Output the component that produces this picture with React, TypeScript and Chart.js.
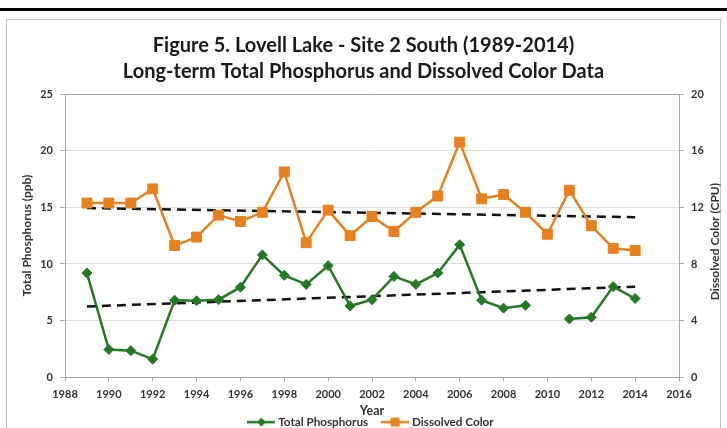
import React, { useEffect, useRef } from 'react';
import { Chart, registerables } from 'chart.js';

Chart.register(...registerables);

const titleLines = [
  'Figure 5. Lovell Lake - Site 2 South (1989-2014)',
  'Long-term Total Phosphorus and Dissolved Color Data',
];
const years = [1989, 1990, 1991, 1992, 1993, 1994, 1995, 1996, 1997, 1998, 1999, 2000, 2001, 2002, 2003, 2004, 2005, 2006, 2007, 2008, 2009, 2010, 2011, 2012, 2013, 2014];
const totalPhosphorus = [9.2, 2.45, 2.35, 1.6, 6.8, 6.75, 6.85, 7.95, 10.8, 9.0, 8.2, 9.85, 6.3, 6.85, 8.9, 8.2, 9.2, 11.7, 6.8, 6.1, 6.35, null, 5.15, 5.3, 8.0, 6.95];
const dissolvedColor = [12.3, 12.3, 12.3, 13.3, 9.3, 9.9, 11.45, 11.0, 11.65, 14.5, 9.5, 11.8, 10.0, 11.35, 10.3, 11.65, 12.8, 16.6, 12.6, 12.9, 11.65, 10.1, 13.2, 10.7, 9.1, 8.95];
const trendYears = [1989, 2014];
const tpTrend = [6.25, 8.0];
const colorTrend = [11.95, 11.3];
const seriesNames = ['Total Phosphorus', 'Dissolved Color'];
const leftAxisTitle = 'Total Phosphorus (ppb)';
const rightAxisTitle = 'Dissolved Color (CPU)';
const xAxisTitle = 'Year';

const GREEN = '#237a23';
const ORANGE = '#e8801e';
const FONT = 'Lato';
const TICK_COLOR = '#333333';
const AXIS_COLOR = '#a6a6a6';

function legendImage(color: string, shape: 'diamond' | 'square') {
  const c = document.createElement('canvas');
  c.width = 28;
  c.height = 12;
  const g = c.getContext('2d')!;
  g.strokeStyle = color;
  g.lineWidth = 2.5;
  g.beginPath();
  g.moveTo(0, 6);
  g.lineTo(28, 6);
  g.stroke();
  g.fillStyle = color;
  if (shape === 'diamond') {
    g.beginPath();
    g.moveTo(14, 1.5);
    g.lineTo(18.5, 6);
    g.lineTo(14, 10.5);
    g.lineTo(9.5, 6);
    g.closePath();
    g.fill();
  } else {
    g.fillRect(9.5, 1.5, 9, 9);
  }
  return c;
}

const framePlugin = {
  id: 'frame',
  beforeDraw(chart: any) {
    const { ctx, width, height } = chart;
    ctx.save();
    ctx.fillStyle = '#ffffff';
    ctx.fillRect(0, 0, width, height);
    ctx.fillStyle = '#000000';
    ctx.fillRect(0, 8, width, 3);
    ctx.strokeStyle = '#c4c4c4';
    ctx.lineWidth = 1;
    ctx.strokeRect(6.5, 19.5, 714, height);
    ctx.restore();
  },
  afterDraw(chart: any) {
    const { ctx, chartArea } = chart;
    ctx.save();
    ctx.translate(715, (chartArea.top + chartArea.bottom) / 2 + 6);
    ctx.rotate(-Math.PI / 2);
    ctx.font = `bold 12px ${FONT}`;
    ctx.fillStyle = '#333333';
    ctx.textAlign = 'center';
    ctx.textBaseline = 'middle';
    ctx.fillText(rightAxisTitle, 0, 0);
    ctx.restore();
  },
};

export default function App() {
  const ref = useRef<HTMLCanvasElement>(null);

  useEffect(() => {
    if (!ref.current) return;
    const images = [legendImage(GREEN, 'diamond'), legendImage(ORANGE, 'square')];
    const tickFont = { family: FONT, weight: 'bold' as const, size: 11 };
    const chart = new Chart(ref.current, {
      type: 'line',
      data: {
        datasets: [
          {
            label: seriesNames[0],
            data: years.map((x, i) => ({ x, y: totalPhosphorus[i] as any })),
            yAxisID: 'y',
            borderColor: GREEN,
            backgroundColor: GREEN,
            borderWidth: 2.5,
            pointStyle: 'rectRot',
            pointRadius: 5,
            pointBorderWidth: 1,
            pointBackgroundColor: GREEN,
            pointBorderColor: GREEN,
            spanGaps: false,
            tension: 0,
            order: 1,
          },
          {
            label: seriesNames[1],
            data: years.map((x, i) => ({ x, y: dissolvedColor[i] })),
            yAxisID: 'y2',
            borderColor: ORANGE,
            backgroundColor: ORANGE,
            borderWidth: 2.5,
            pointStyle: 'rect',
            pointRadius: 7,
            pointBorderWidth: 1,
            pointBackgroundColor: ORANGE,
            pointBorderColor: ORANGE,
            tension: 0,
            order: 2,
          },
          {
            label: 'TP trend',
            data: trendYears.map((x, i) => ({ x, y: tpTrend[i] })),
            yAxisID: 'y',
            borderColor: '#111111',
            borderWidth: 2.5,
            borderDash: [9, 6],
            pointRadius: 0,
            order: 3,
          },
          {
            label: 'Color trend',
            data: trendYears.map((x, i) => ({ x, y: colorTrend[i] })),
            yAxisID: 'y2',
            borderColor: '#111111',
            borderWidth: 2.5,
            borderDash: [9, 6],
            pointRadius: 0,
            order: 4,
          },
        ],
      },
      options: {
        animation: false,
        responsive: false,
        layout: { padding: 0 },
        scales: {
          x: {
            type: 'linear',
            min: 1988,
            max: 2016,
            ticks: { stepSize: 2, font: tickFont, color: TICK_COLOR, padding: 7, callback: (v: any) => String(v) },
            grid: { drawOnChartArea: false, drawTicks: true, tickLength: 4, color: AXIS_COLOR },
            border: { color: AXIS_COLOR, width: 1 },
            title: {
              display: true,
              text: xAxisTitle,
              font: { family: FONT, weight: 'bold', size: 12.5 },
              color: '#333333',
              padding: { top: 0, bottom: -18 },
            },
            afterFit: (s: any) => { s.height = 23; },
          },
          y: {
            position: 'left',
            min: 0,
            max: 25,
            ticks: { stepSize: 5, font: tickFont, color: TICK_COLOR, padding: 7 },
            grid: {
              color: (c: any) => (c.tick && c.tick.value === 25 ? AXIS_COLOR : '#dedede'),
              tickColor: AXIS_COLOR,
              tickLength: 5,
              drawTicks: true,
            },
            border: { color: AXIS_COLOR, width: 1 },
            title: {
              display: true,
              text: leftAxisTitle,
              font: { family: FONT, weight: 'bold', size: 12 },
              color: '#333333',
              padding: { top: 20, bottom: 0 },
            },
            afterFit: (s: any) => { s.width = 65; },
          },
          y2: {
            position: 'right',
            min: 0,
            max: 20,
            ticks: { stepSize: 4, font: tickFont, color: TICK_COLOR, padding: 7 },
            grid: { drawOnChartArea: false, drawTicks: true, tickLength: 5, color: AXIS_COLOR },
            border: { color: AXIS_COLOR, width: 1 },
            afterFit: (s: any) => { s.width = 48; },
          },
        },
        plugins: {
          title: {
            display: true,
            text: titleLines,
            font: { family: FONT, weight: 'bold', size: 20, lineHeight: 1.33 },
            color: '#1a1a1a',
            padding: { top: 32, bottom: 8.8 },
            fullSize: true,
          },
          legend: {
            display: true,
            position: 'bottom',
            fullSize: false,
            labels: {
              usePointStyle: true,
              pointStyleWidth: 22,
              padding: 16,
              font: { family: FONT, weight: 'bold', size: 11.7 },
              color: '#333333',
              filter: (item: any) => item.datasetIndex < 2,
              generateLabels: (ch: any) =>
                (Chart.defaults.plugins.legend.labels.generateLabels as any)(ch).map((it: any) => ({
                  ...it,
                  pointStyle: images[it.datasetIndex] ?? it.pointStyle,
                })),
            },
          },
          tooltip: { enabled: false },
        },
      },
      plugins: [framePlugin],
    });
    return () => chart.destroy();
  }, []);

  return (
    <div style={{ position: 'fixed', left: 0, top: 0, width: 727, height: 428, overflow: 'hidden', background: '#fff' }}>
      <canvas ref={ref} width={727} height={438} style={{ display: 'block' }} />
    </div>
  );
}
